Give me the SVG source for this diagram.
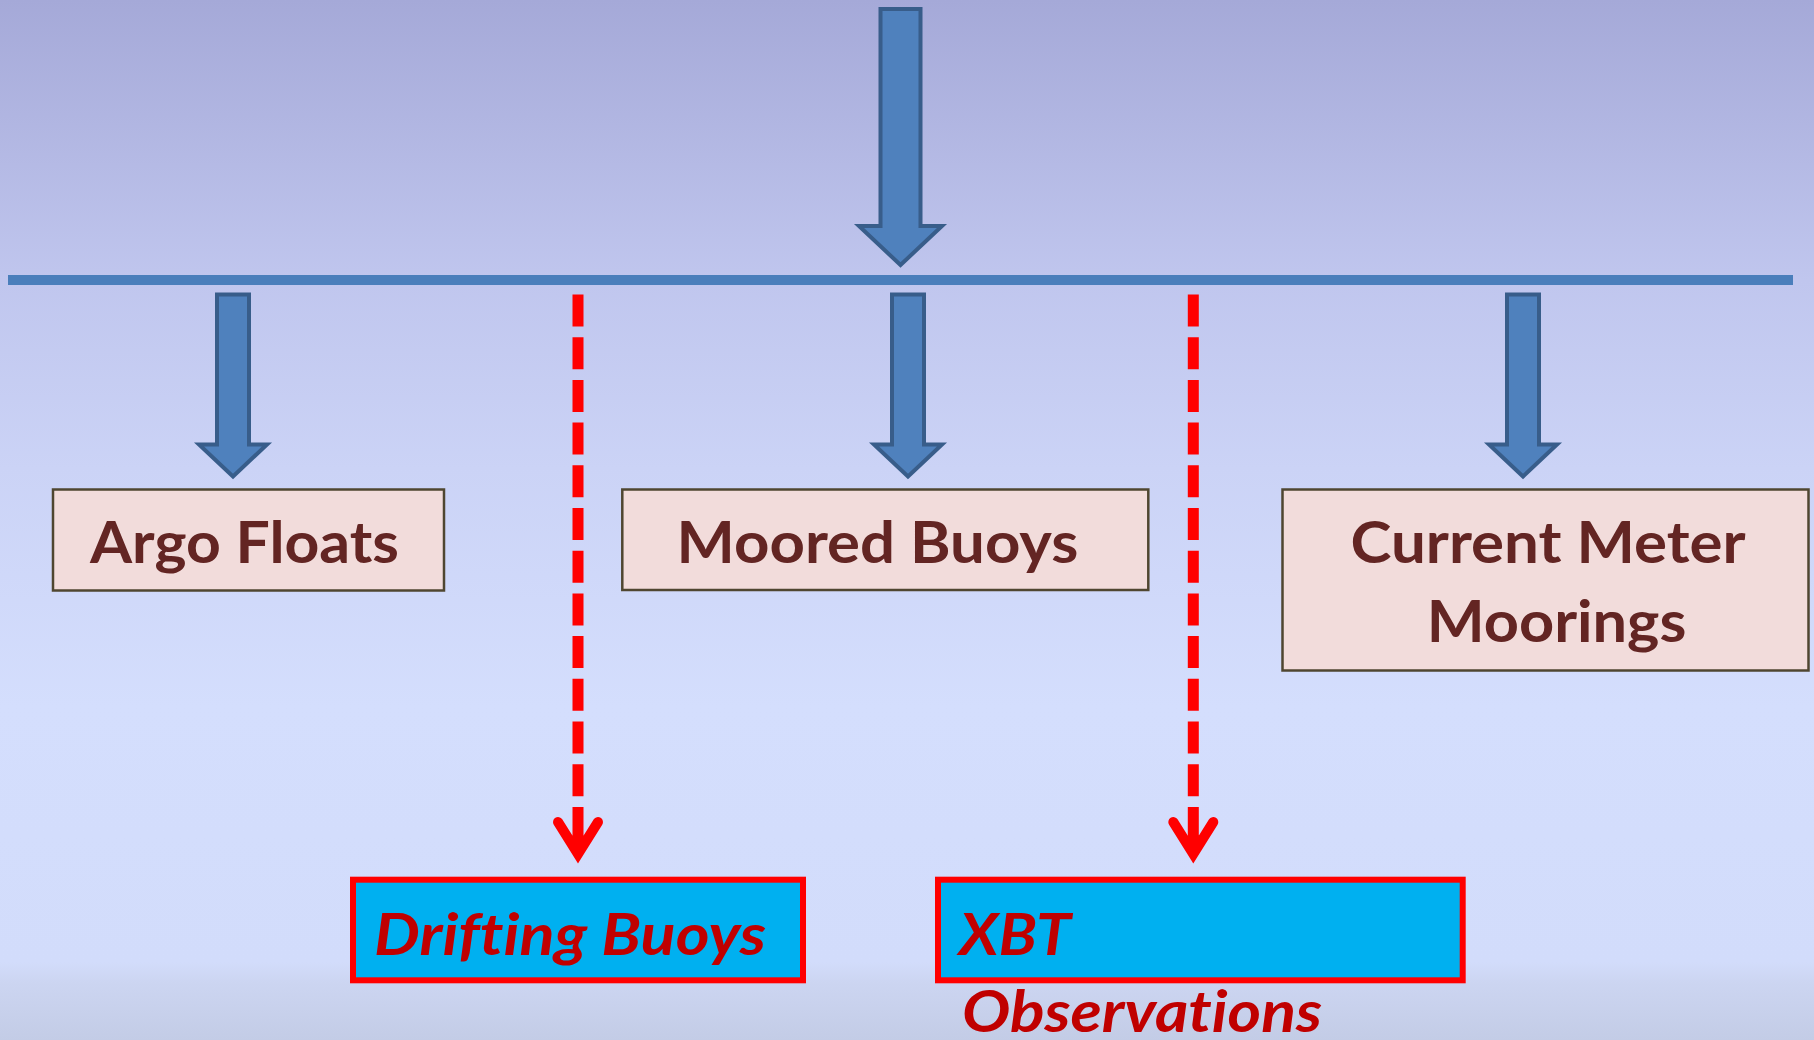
<svg xmlns="http://www.w3.org/2000/svg" width="1814" height="1040" viewBox="0 0 1814 1040">
  <defs>
    <linearGradient id="bg" x1="0" y1="0" x2="0" y2="1">
      <stop offset="0" stop-color="#A5A9D8"/>
      <stop offset="0.27" stop-color="#C0C6EE"/>
      <stop offset="0.45" stop-color="#CBD3F6"/>
      <stop offset="0.68" stop-color="#D4DEFD"/>
      <stop offset="0.925" stop-color="#D2DCFB"/>
      <stop offset="0.945" stop-color="#CCD5F1"/>
      <stop offset="1" stop-color="#C3CCE6"/>
    </linearGradient>
    <path id="barrow" d="M-16,0 H16 V150 H34 L0,182 L-34,150 H-16 Z"/>
  </defs>
  <style>
    .blk { fill: #4F81BD; stroke: #385D8A; stroke-width: 4; stroke-linejoin: miter; }
    .box { fill: #F2DCDB; stroke: #4F4630; stroke-width: 2.5; }
    .lbl { font-family: Lato, "Open Sans", "Liberation Sans", sans-serif; font-weight: 700; font-size: 57px; fill: #632523; font-variant-ligatures: none; }
    .rbox { fill: #00B0F0; stroke: #FF0000; stroke-width: 6; }
    .rlbl { font-family: Lato, "Open Sans", "Liberation Sans", sans-serif; font-weight: 700; font-style: italic; font-size: 58px; fill: #C00000; font-variant-ligatures: none; }
    .dash { fill: none; stroke: #FF0000; stroke-width: 11; stroke-dasharray: 32 10.7; }
    .dhead { fill: none; stroke: #FF0000; stroke-width: 10; stroke-linecap: round; stroke-linejoin: miter; }
  </style>
  <rect x="0" y="0" width="1814" height="1040" fill="url(#bg)"/>

  <g id="connectors">
    <path class="blk" d="M880.5,9 H920.5 V226 H942 L900.5,265 L859,226 H880.5 Z"/>
    <rect x="8" y="275" width="1785" height="10" fill="#4A7EBB"/>
    <use href="#barrow" class="blk" transform="translate(233,294.5)"/>
    <use href="#barrow" class="blk" transform="translate(908,294.5)"/>
    <use href="#barrow" class="blk" transform="translate(1523,294.5)"/>
    <line class="dash" x1="578" y1="294.5" x2="578" y2="839"/>
    <line x1="578" y1="835" x2="578" y2="850" stroke="#FF0000" stroke-width="11"/>
    <polyline class="dhead" points="558,822 578,854 598,822"/>
    <line class="dash" x1="1193.3" y1="294.5" x2="1193.3" y2="839"/>
    <line x1="1193.3" y1="835" x2="1193.3" y2="850" stroke="#FF0000" stroke-width="11"/>
    <polyline class="dhead" points="1173.3,822 1193.3,854 1213.3,822"/>
  </g>

  <g id="argo">
    <rect class="box" x="53" y="489.5" width="391" height="101"/>
    <text class="lbl" x="90" y="563.3" textLength="309" lengthAdjust="spacingAndGlyphs">Argo Floats</text>
  </g>
  <g id="moored">
    <rect class="box" x="622.3" y="489.5" width="526" height="100.5"/>
    <text class="lbl" x="676.6" y="562.7" textLength="401.7" lengthAdjust="spacingAndGlyphs">Moored Buoys</text>
  </g>
  <g id="current">
    <rect class="box" x="1282.5" y="489.5" width="526" height="181"/>
    <text class="lbl" x="1350.5" y="563.3" textLength="395" lengthAdjust="spacingAndGlyphs">Current Meter</text>
    <text class="lbl" x="1426.8" y="641.7" textLength="259.6" lengthAdjust="spacingAndGlyphs">Moorings</text>
  </g>
  <g id="drifting">
    <rect class="rbox" x="353" y="879.7" width="450" height="100.6"/>
    <text class="rlbl" x="374" y="955" textLength="392" lengthAdjust="spacingAndGlyphs">Drifting Buoys</text>
  </g>
  <g id="xbt">
    <rect class="rbox" x="938" y="879.7" width="524.7" height="100.6"/>
    <text class="rlbl" x="959" y="955" textLength="112" lengthAdjust="spacingAndGlyphs">XBT</text>
    <text class="rlbl" x="962" y="1032" textLength="360" lengthAdjust="spacingAndGlyphs">Observations</text>
  </g>
</svg>
